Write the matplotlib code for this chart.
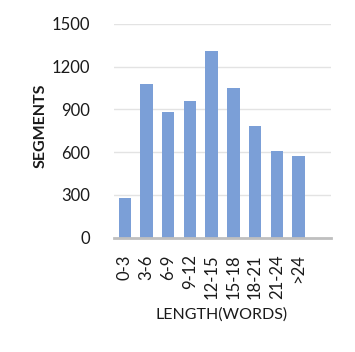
import matplotlib
matplotlib.use("Agg")
import matplotlib.pyplot as plt

categories = ["0-3", "3-6", "6-9", "9-12", "12-15", "15-18", "18-21", "21-24", ">24"]
segments = [275, 1080, 880, 955, 1310, 1050, 780, 610, 575]
y_ticks = [0, 300, 600, 900, 1200, 1500]

plt.rcParams['font.family'] = ['Lato', 'DejaVu Sans']

fig = plt.figure(figsize=(3.55, 3.52), dpi=100)
ax = fig.add_axes([114/355, 1-237.7/352, (331-114)/355, (237.7-23.7)/352])

x = list(range(len(categories)))
ax.bar(x, segments, width=0.57, color="#7B9FD7", zorder=3)
ax.set_xlim(-0.5, 9.5)
ax.set_ylim(0, 1500)
ax.set_yticks(y_ticks)
ax.set_yticklabels([str(v) for v in y_ticks], fontsize=12, color="#1a1a1a")
ax.set_xticks(x)
ax.set_xticklabels(categories, rotation=90, fontsize=12, color="#1a1a1a", va="top", ha="center")
ax.tick_params(axis='both', length=0)
ax.tick_params(axis='y', pad=17)
ax.tick_params(axis='x', pad=12)
ax.grid(axis='y', color="#E3E3E3", linewidth=1, zorder=0)
for s in ["left", "right", "top"]:
    ax.spines[s].set_visible(False)
ax.spines["bottom"].set_color("#BFBFBF")
ax.spines["bottom"].set_linewidth(2)
ax.spines["bottom"].set_zorder(4)

fig.text(41/355, 1-126/352, "SEGMENTS", rotation=90, ha="center", va="center",
         fontsize=11.5, fontweight="bold", color="#1a1a1a")
fig.text(222/355, 1-315/352, "LENGTH(WORDS)", ha="center", va="center",
         fontsize=11.5, color="#1a1a1a")

fig.savefig("out.png", dpi=100)
